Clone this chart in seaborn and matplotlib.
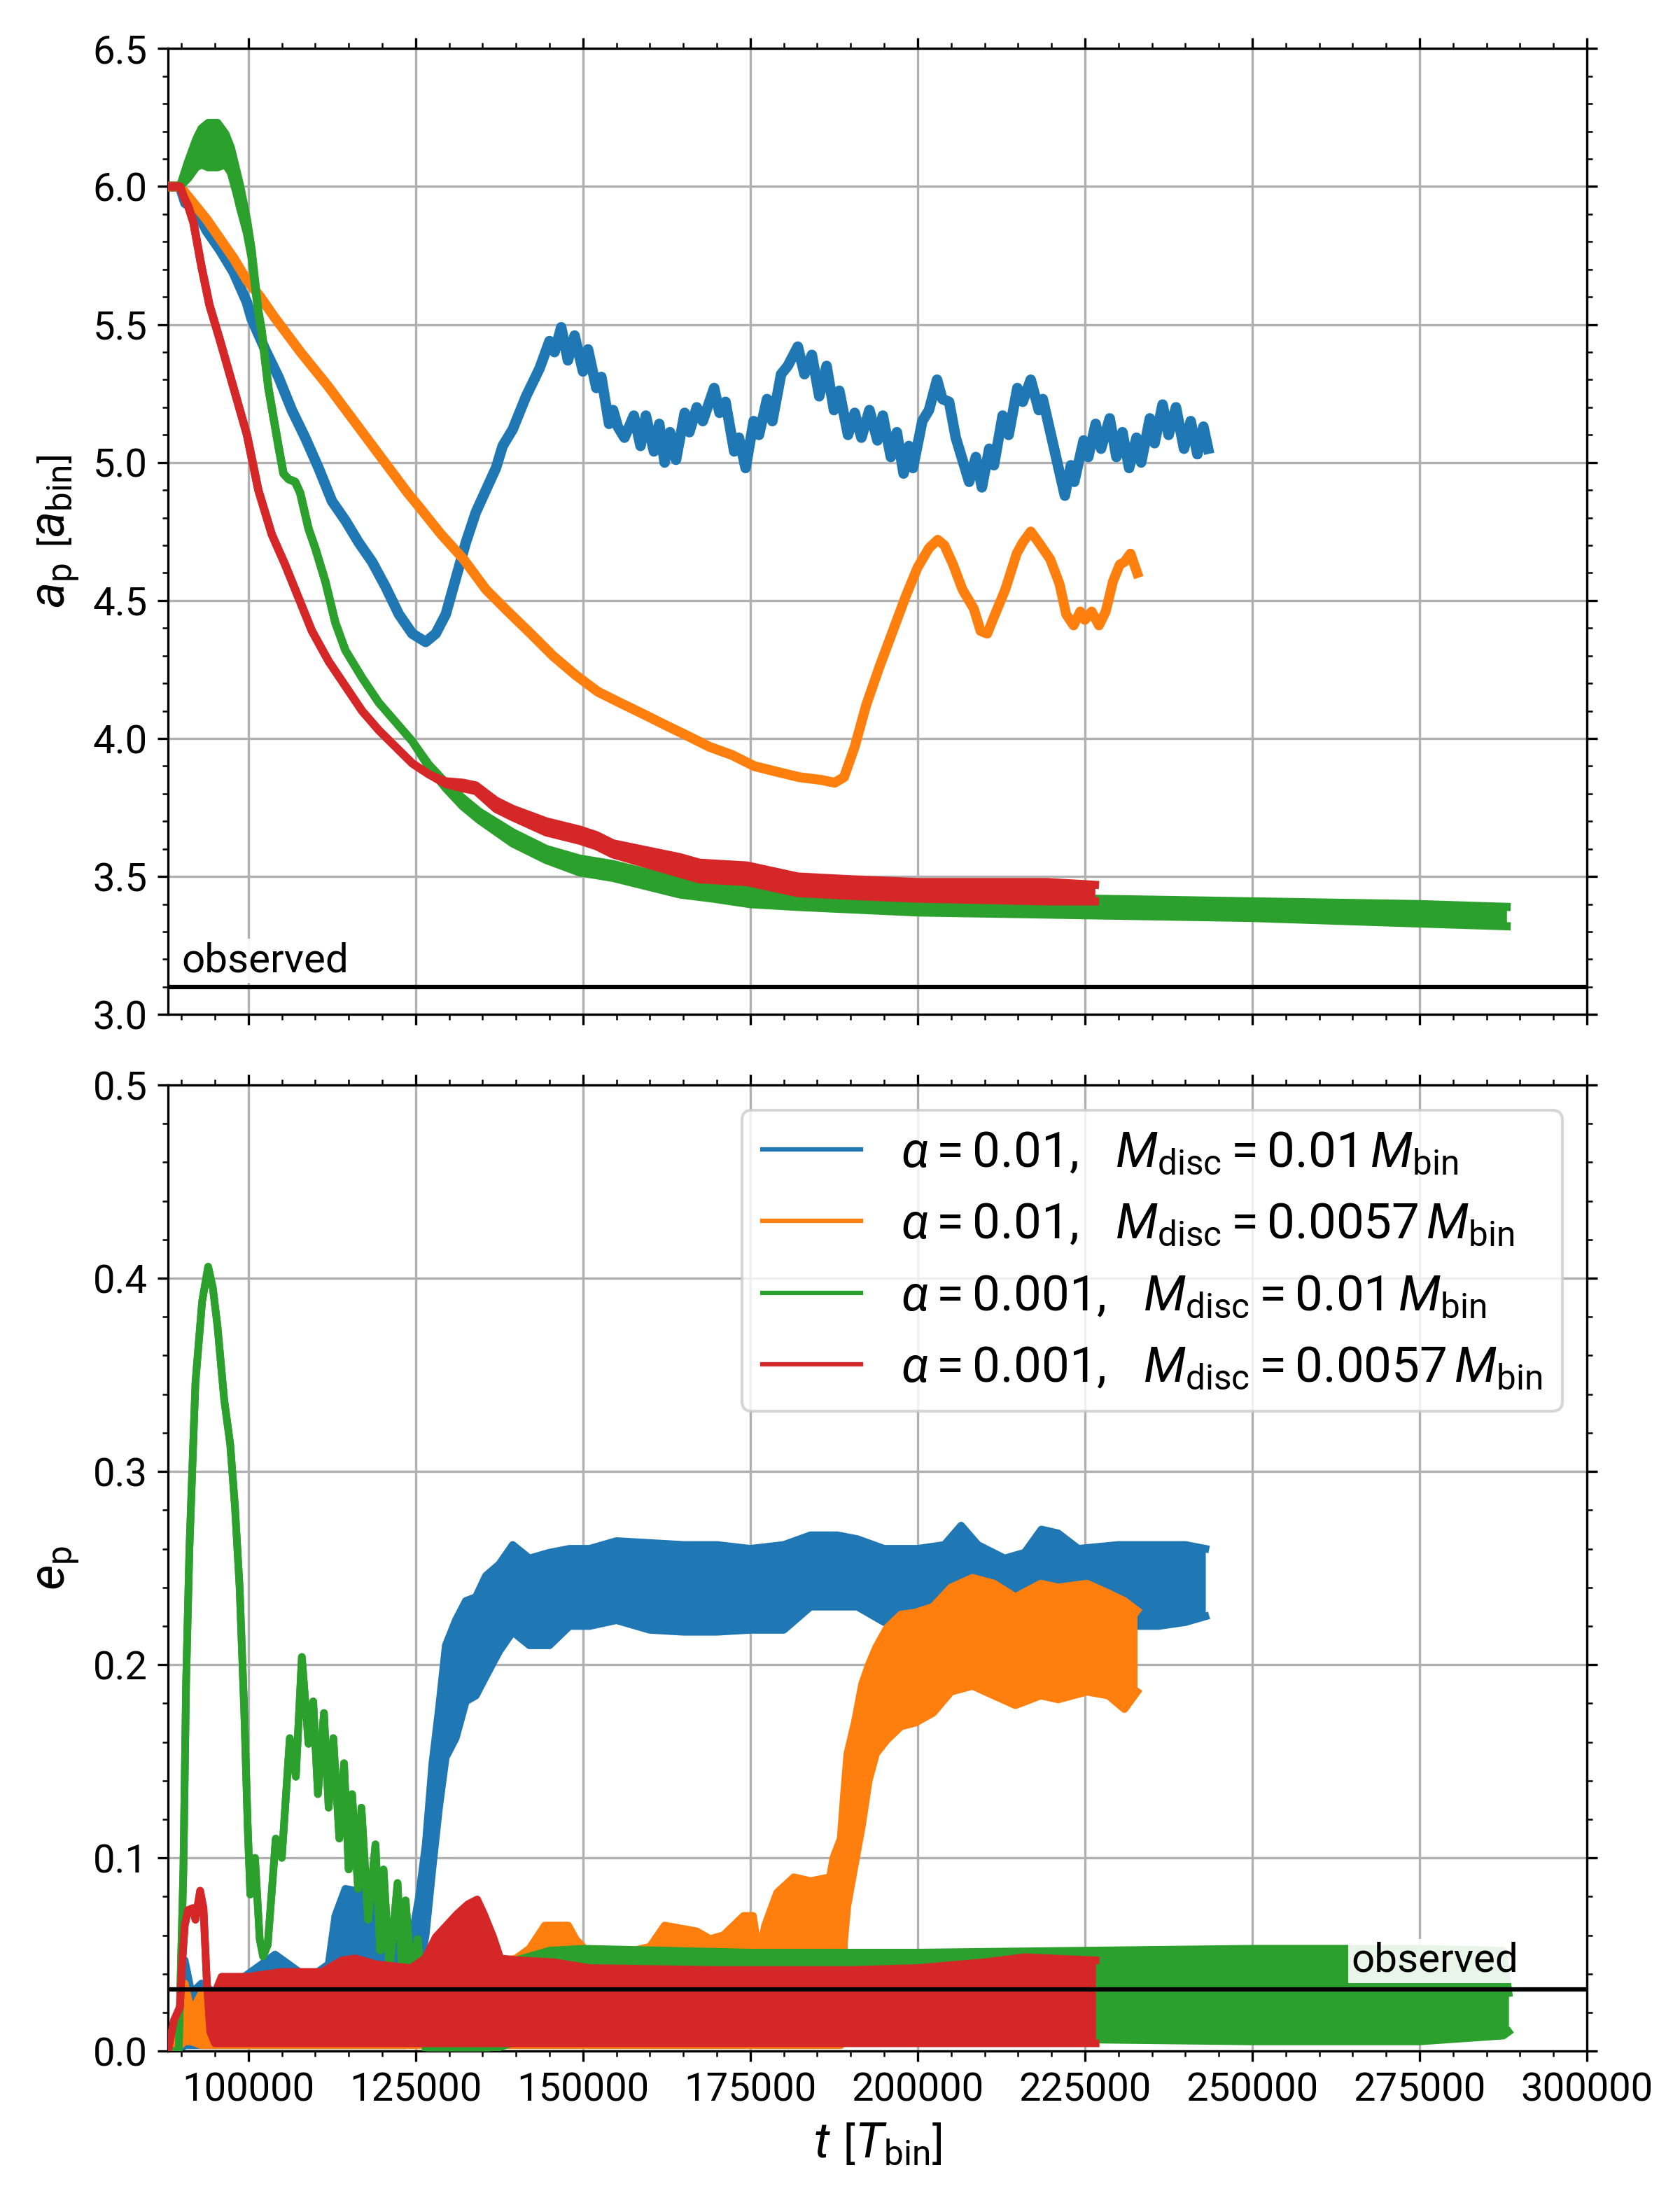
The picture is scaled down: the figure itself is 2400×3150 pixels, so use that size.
import numpy as np
import matplotlib
matplotlib.use("Agg")
import matplotlib.pyplot as plt
from matplotlib.lines import Line2D
import seaborn as sns

# ---------------- semi-major axis a_p [a_bin] ----------------
BLUE_A_T = [88000, 89800, 90600, 91800, 93800, 95800, 97800, 99800, 100500, 102500, 104500,
            106500, 108500, 110500, 112500, 114500, 116500, 118500, 120500, 122500, 124500,
            126500, 128000, 129500, 131000, 132500, 134000, 135500, 137000, 138000, 139500,
            141500, 143500, 145000, 145750, 146750, 147750, 148750, 150000, 150750, 152000,
            152750, 153900, 154500, 155200, 156200, 157600, 158600, 159400, 160600, 161400,
            162200, 163000, 163900, 165200, 165900, 167000, 167900, 169600, 170400, 171300,
            172600, 173300, 174300, 175500, 176300, 177500, 178300, 179600, 180600, 182100,
            183100, 184200, 185300, 186400, 187500, 188300, 189600, 190600, 191600, 192800,
            194000, 194800, 196000, 196900, 197900, 198700, 199300, 200700, 201700, 202900,
            203700, 204700, 205700, 206700, 207700, 208700, 209600, 210700, 211400, 212700,
            213600, 214900, 215700, 216900, 218100, 218700, 220400, 222000, 222900, 223400,
            224800, 225500, 226600, 227400, 228700, 229700, 230600, 231600, 232700, 233400,
            234700, 235400, 236600, 237500, 238600, 239800, 240800, 241800, 242700, 243400]
BLUE_A = [6.00, 6.00, 5.94, 5.93, 5.84, 5.77, 5.69, 5.58, 5.52, 5.41, 5.31,
          5.19, 5.09, 4.98, 4.86, 4.79, 4.71, 4.64, 4.55, 4.45, 4.38,
          4.35, 4.38, 4.45, 4.58, 4.71, 4.82, 4.90, 4.98, 5.06, 5.12,
          5.24, 5.34, 5.44, 5.40, 5.49, 5.37, 5.46, 5.33, 5.41, 5.27,
          5.31, 5.14, 5.19, 5.13, 5.09, 5.17, 5.06, 5.17, 5.04, 5.14,
          5.00, 5.11, 5.01, 5.18, 5.11, 5.20, 5.15, 5.27, 5.18, 5.22,
          5.04, 5.09, 4.98, 5.15, 5.10, 5.23, 5.15, 5.32, 5.35, 5.42,
          5.32, 5.39, 5.24, 5.35, 5.19, 5.26, 5.10, 5.18, 5.09, 5.19,
          5.08, 5.17, 5.02, 5.11, 4.96, 5.06, 4.98, 5.15, 5.19, 5.30,
          5.23, 5.22, 5.09, 5.01, 4.93, 5.02, 4.91, 5.05, 4.99, 5.17,
          5.10, 5.27, 5.22, 5.30, 5.19, 5.23, 5.05, 4.88, 4.99, 4.93,
          5.08, 5.02, 5.14, 5.05, 5.16, 5.02, 5.11, 4.98, 5.09, 5.00,
          5.16, 5.07, 5.21, 5.10, 5.20, 5.05, 5.15, 5.03, 5.13, 5.05]

ORANGE_A_T = [88000, 89800, 91800, 93800, 95800, 97800, 99800, 101800, 103800, 107800,
              111800, 115800, 119800, 123800, 125500, 128800, 132150, 135500, 138800, 142200,
              145500, 148900, 152200, 155500, 158900, 162200, 165600, 168900, 172300, 175600,
              178900, 182300, 185600, 187600, 189000, 190600, 192300, 194300, 196300, 198300,
              200000, 201700, 203000, 204000, 205300, 206700, 208400, 209400, 210400, 211400,
              213100, 214800, 215700, 216900, 218100, 219800, 221200, 222200, 223300, 224300,
              225000, 226000, 227100, 228100, 229200, 230200, 230900, 231800, 232800]
ORANGE_A = [6.00, 6.00, 5.94, 5.88, 5.81, 5.74, 5.66, 5.60, 5.53, 5.40,
            5.28, 5.15, 5.02, 4.89, 4.84, 4.74, 4.65, 4.54, 4.46, 4.38,
            4.30, 4.23, 4.17, 4.13, 4.09, 4.05, 4.01, 3.97, 3.94, 3.90,
            3.88, 3.86, 3.85, 3.84, 3.86, 3.97, 4.12, 4.26, 4.39, 4.52,
            4.62, 4.69, 4.72, 4.70, 4.63, 4.54, 4.47, 4.39, 4.38, 4.44,
            4.54, 4.67, 4.71, 4.75, 4.71, 4.65, 4.56, 4.45, 4.41, 4.46,
            4.43, 4.46, 4.41, 4.46, 4.57, 4.63, 4.64, 4.67, 4.60]

GREEN_A_T = [88000, 89800, 91000, 92200, 93000, 94000, 95400, 96600, 97400, 98200, 98800,
             99800, 100500, 101500, 102000, 103000, 104500, 105250, 106000, 107000, 107750,
             109000, 110000, 111500, 113000, 114500, 117000, 119500, 122000, 124500, 127000,
             129500, 132000, 134500, 139500, 144500, 149500, 154500, 159500, 164500, 169500,
             175000, 182100, 200000, 225000, 250000, 275000, 288000]
GREEN_A_LO = [6.00, 6.00, 6.03, 6.07, 6.08, 6.07, 6.07, 6.08, 6.05, 5.98, 5.92,
              5.83, 5.74, 5.54, 5.47, 5.27, 5.06, 4.96, 4.94, 4.93, 4.89,
              4.76, 4.69, 4.57, 4.42, 4.32, 4.22, 4.13, 4.06, 3.99, 3.895,
              3.82, 3.755, 3.705, 3.62, 3.56, 3.515, 3.495, 3.465, 3.435, 3.42,
              3.40, 3.39, 3.37, 3.36, 3.35, 3.33, 3.32]
GREEN_A_HI = [6.00, 6.00, 6.09, 6.17, 6.21, 6.23, 6.23, 6.19, 6.14, 6.06, 6.00,
              5.88, 5.77, 5.55, 5.48, 5.27, 5.06, 4.96, 4.94, 4.93, 4.89,
              4.76, 4.69, 4.57, 4.42, 4.32, 4.22, 4.13, 4.06, 3.99, 3.905,
              3.84, 3.785, 3.735, 3.66, 3.60, 3.565, 3.545, 3.515, 3.49, 3.47,
              3.45, 3.44, 3.43, 3.42, 3.41, 3.40, 3.39]

RED_A_T = [88000, 89800, 90400, 91000, 91800, 93000, 94200, 95800, 97800, 99800, 101500,
           103500, 105500, 107500, 109500, 112000, 114500, 117000, 119500, 122000, 124500,
           127000, 129500, 132000, 134000, 137000, 139500, 144500, 149500, 152000, 154500,
           159500, 164500, 167400, 174500, 182100, 190000, 200000, 210000, 219400, 226500]
RED_A_LO = [6.00, 6.00, 5.96, 5.93, 5.87, 5.71, 5.57, 5.44, 5.27, 5.10, 4.90,
            4.74, 4.63, 4.51, 4.39, 4.28, 4.19, 4.10, 4.03, 3.97, 3.91,
            3.87, 3.835, 3.82, 3.81, 3.745, 3.715, 3.66, 3.63, 3.61, 3.58,
            3.545, 3.51, 3.49, 3.48, 3.44, 3.43, 3.42, 3.415, 3.41, 3.41]
RED_A_HI = [6.00, 6.00, 5.96, 5.93, 5.87, 5.71, 5.57, 5.44, 5.27, 5.10, 4.90,
            4.74, 4.63, 4.51, 4.39, 4.28, 4.19, 4.10, 4.03, 3.97, 3.91,
            3.87, 3.845, 3.84, 3.83, 3.775, 3.745, 3.70, 3.67, 3.65, 3.62,
            3.595, 3.57, 3.55, 3.54, 3.50, 3.49, 3.48, 3.48, 3.48, 3.47]

# ---------------- eccentricity e_p (envelopes of the fast oscillation) ----------------
BLUE_E_T = [88000, 89500, 90500, 91500, 93000, 95000, 98000, 100000, 102000, 104000, 106000,
            108000, 110000, 112000, 113000, 114500, 116000, 117500, 119000, 120500, 122000,
            123500, 124500, 125500, 126500, 127500, 128500, 129500, 131000, 132500, 134000,
            135500, 137500, 139500, 142000, 145000, 148000, 151000, 155000, 160000, 165000,
            170000, 175000, 180000, 184000, 188000, 191000, 195000, 200000, 204000, 206500,
            209000, 213000, 216000, 218500, 221000, 224000, 230000, 236000, 240000, 243000]
BLUE_E_LO = [0.0, 0.0, 0.003, 0.003, 0.003, 0.003, 0.003, 0.003, 0.003, 0.003, 0.003,
             0.003, 0.003, 0.003, 0.003, 0.003, 0.003, 0.003, 0.003, 0.003, 0.003,
             0.003, 0.01, 0.04, 0.06, 0.094, 0.126, 0.152, 0.162, 0.181, 0.184,
             0.194, 0.207, 0.217, 0.21, 0.21, 0.22, 0.22, 0.223, 0.218, 0.217,
             0.217, 0.218, 0.218, 0.23, 0.23, 0.23, 0.222, 0.222, 0.222, 0.222,
             0.222, 0.221, 0.221, 0.228, 0.228, 0.22, 0.22, 0.22, 0.222, 0.225]
BLUE_E_HI = [0.0, 0.01, 0.047, 0.03, 0.035, 0.03, 0.035, 0.04, 0.045, 0.05, 0.045,
             0.04, 0.04, 0.045, 0.07, 0.084, 0.083, 0.084, 0.075, 0.065, 0.055,
             0.05, 0.06, 0.08, 0.107, 0.149, 0.178, 0.21, 0.223, 0.233, 0.235,
             0.246, 0.252, 0.262, 0.255, 0.258, 0.26, 0.26, 0.264, 0.263, 0.262,
             0.262, 0.26, 0.262, 0.267, 0.267, 0.265, 0.26, 0.26, 0.262, 0.272,
             0.262, 0.255, 0.258, 0.27, 0.268, 0.26, 0.262, 0.262, 0.262, 0.26]

ORANGE_E_T = [88000, 89500, 90500, 91500, 93000, 96000, 100000, 110000, 120000, 130000,
              140000, 142000, 144300, 147800, 148900, 150500, 155000, 160000, 162200, 163800,
              167000, 169000, 171000, 174000, 175400, 176300, 177200, 179000, 181500, 184000,
              186900, 187400, 188500, 189000, 189500, 190600, 191700, 192700, 193800, 195400,
              197500, 199700, 202300, 205000, 208200, 211400, 214600, 218400, 221000, 225300,
              228500, 230900, 232800]
ORANGE_E_LO = [0.0, 0.002, 0.005, 0.005, 0.003, 0.003, 0.003, 0.003, 0.003, 0.003,
               0.003, 0.003, 0.003, 0.003, 0.003, 0.003, 0.003, 0.003, 0.003, 0.003,
               0.003, 0.003, 0.003, 0.003, 0.003, 0.003, 0.003, 0.003, 0.003, 0.003,
               0.003, 0.003, 0.003, 0.056, 0.075, 0.096, 0.117, 0.14, 0.154, 0.161,
               0.168, 0.17, 0.175, 0.186, 0.189, 0.184, 0.179, 0.184, 0.182, 0.186,
               0.184, 0.177, 0.186]
ORANGE_E_HI = [0.0, 0.01, 0.035, 0.02, 0.03, 0.025, 0.03, 0.035, 0.035, 0.04,
               0.048, 0.053, 0.065, 0.065, 0.058, 0.052, 0.05, 0.054, 0.065, 0.064,
               0.062, 0.058, 0.06, 0.07, 0.07, 0.05, 0.065, 0.082, 0.09, 0.088,
               0.09, 0.10, 0.11, 0.133, 0.154, 0.17, 0.19, 0.20, 0.209, 0.219,
               0.226, 0.227, 0.23, 0.24, 0.245, 0.242, 0.235, 0.242, 0.24, 0.242,
               0.237, 0.233, 0.228]

GREEN_E_T = [88000, 89600, 90300, 90700, 91200, 92100, 93100, 94000, 94700, 95400, 96400,
             97300, 98000, 98700, 99400, 99900, 100300, 101000, 101700, 102200, 102900,
             104100, 105000, 106200, 107100, 108000, 109000, 109700, 110400, 111300, 112000,
             112700, 113600, 114300, 115000, 115500, 116400, 116900, 117900, 119000, 119700,
             120200, 121100, 122300, 123000, 123500, 124400, 125300, 126000, 126500, 136000,
             140000, 145000, 150000, 175000, 200000, 225000, 250000, 275000, 287500, 288300]
GREEN_E_LO = [0.0, 0.0, 0.094, 0.19, 0.26, 0.346, 0.388, 0.406, 0.395, 0.375, 0.337,
              0.314, 0.282, 0.24, 0.175, 0.117, 0.081, 0.10, 0.058, 0.049, 0.055,
              0.11, 0.10, 0.162, 0.142, 0.204, 0.159, 0.181, 0.133, 0.175, 0.126,
              0.162, 0.11, 0.149, 0.094, 0.133, 0.084, 0.126, 0.068, 0.107, 0.052,
              0.094, 0.042, 0.087, 0.039, 0.078, 0.036, 0.058, 0.03, 0.0, 0.0,
              0.005, 0.005, 0.006, 0.006, 0.006, 0.006, 0.005, 0.005, 0.008, 0.01]
GREEN_E_HI = [0.0, 0.0, 0.094, 0.19, 0.26, 0.346, 0.388, 0.406, 0.395, 0.375, 0.337,
              0.314, 0.282, 0.24, 0.175, 0.117, 0.081, 0.10, 0.058, 0.049, 0.055,
              0.11, 0.10, 0.162, 0.142, 0.204, 0.159, 0.181, 0.133, 0.175, 0.126,
              0.162, 0.11, 0.149, 0.094, 0.133, 0.084, 0.126, 0.068, 0.107, 0.052,
              0.094, 0.042, 0.087, 0.039, 0.078, 0.036, 0.058, 0.03, 0.04, 0.04,
              0.047, 0.052, 0.053, 0.051, 0.051, 0.052, 0.053, 0.053, 0.052, 0.03]

RED_E_T = [88000, 88900, 89800, 90100, 90500, 91000, 91700, 92100, 92800, 93300, 93800,
           94300, 95000, 96000, 100000, 105000, 111000, 114000, 116000, 119000, 124300,
           126400, 128000, 129600, 131200, 132800, 134200, 135200, 136600, 137650, 140300,
           145700, 151000, 170000, 190000, 200000, 210000, 216000, 226600]
RED_E_LO = [0.0, 0.016, 0.023, 0.045, 0.065, 0.073, 0.074, 0.068, 0.083, 0.074, 0.036,
            0.01, 0.004, 0.004, 0.004, 0.004, 0.004, 0.004, 0.004, 0.004, 0.004,
            0.004, 0.004, 0.004, 0.004, 0.004, 0.004, 0.004, 0.004, 0.004, 0.004,
            0.004, 0.004, 0.004, 0.004, 0.004, 0.004, 0.004, 0.004]
RED_E_HI = [0.0, 0.016, 0.023, 0.045, 0.065, 0.073, 0.074, 0.068, 0.083, 0.074, 0.036,
            0.013, 0.03, 0.0385, 0.0385, 0.041, 0.041, 0.047, 0.048, 0.045, 0.043,
            0.048, 0.059, 0.065, 0.071, 0.076, 0.0785, 0.071, 0.059, 0.048, 0.047,
            0.046, 0.043, 0.042, 0.042, 0.043, 0.046, 0.0486, 0.047]

A_OBS = 3.1
E_OBS = 0.032

LABELS = [r"$\alpha = 0.01,\ \ M_{\rm disc} = 0.01\,M_{\rm bin}$",
          r"$\alpha = 0.01,\ \ M_{\rm disc} = 0.0057\,M_{\rm bin}$",
          r"$\alpha = 0.001,\ \ M_{\rm disc} = 0.01\,M_{\rm bin}$",
          r"$\alpha = 0.001,\ \ M_{\rm disc} = 0.0057\,M_{\rm bin}$"]

plt.rcParams["font.family"] = ["Roboto", "DejaVu Sans"]
plt.rcParams["mathtext.fontset"] = "custom"
plt.rcParams["mathtext.rm"] = "Roboto"
plt.rcParams["mathtext.it"] = "Roboto:italic"
plt.rcParams["mathtext.bf"] = "Roboto:bold"
plt.rcParams["mathtext.sf"] = "Roboto"
plt.rcParams["xtick.labelsize"] = 13.5
plt.rcParams["ytick.labelsize"] = 13.5

colors = sns.color_palette("tab10", 4)


def draw(ax, t, lo, hi, color, z, lw=2.6):
    t = np.asarray(t, dtype=float)
    lo = np.asarray(lo, dtype=float)
    hi = np.asarray(hi, dtype=float)
    ax.fill_between(t, lo, hi, color=color, lw=0, zorder=z)
    sns.lineplot(x=t, y=lo, ax=ax, color=color, lw=lw, estimator=None, sort=False, zorder=z)
    sns.lineplot(x=t, y=hi, ax=ax, color=color, lw=lw, estimator=None, sort=False, zorder=z)


fig, (ax1, ax2) = plt.subplots(2, 1, sharex=True, figsize=(8, 10.5), dpi=300)
fig.subplots_adjust(left=0.1, right=0.9446, top=0.978, bottom=0.0698, hspace=0.073)

# top panel
sns.lineplot(x=BLUE_A_T, y=BLUE_A, ax=ax1, color=colors[0], lw=3.6, estimator=None, sort=False, zorder=2)
sns.lineplot(x=ORANGE_A_T, y=ORANGE_A, ax=ax1, color=colors[1], lw=3.4, estimator=None, sort=False, zorder=3)
draw(ax1, GREEN_A_T, GREEN_A_LO, GREEN_A_HI, colors[2], 4, lw=2.8)
draw(ax1, RED_A_T, RED_A_LO, RED_A_HI, colors[3], 5, lw=2.8)

# bottom panel
draw(ax2, BLUE_E_T, BLUE_E_LO, BLUE_E_HI, colors[0], 2)
draw(ax2, ORANGE_E_T, ORANGE_E_LO, ORANGE_E_HI, colors[1], 3)
draw(ax2, GREEN_E_T, GREEN_E_LO, GREEN_E_HI, colors[2], 4)
draw(ax2, RED_E_T, RED_E_LO, RED_E_HI, colors[3], 5)

txt_box = dict(facecolor="white", edgecolor="none", alpha=0.9, pad=1)
ax1.axhline(A_OBS, color="k", lw=1.5, zorder=10)
ax1.text(90000, 3.155, "observed", fontsize=14, va="baseline", ha="left", zorder=11, bbox=txt_box)
ax2.axhline(E_OBS, color="k", lw=1.5, zorder=10)
ax2.text(264800, 0.041, "observed", fontsize=14, va="baseline", ha="left", zorder=11, bbox=txt_box)

ax1.set_xlim(88000, 300000)
ax1.set_ylim(3.0, 6.5)
ax2.set_ylim(0.0, 0.5)
ax1.set_xticks(np.arange(100000, 300001, 25000))

for ax in (ax1, ax2):
    ax.minorticks_on()
    ax.tick_params(which="both", direction="out", top=True, right=True)
    ax.grid(True, which="major", color="#b0b0b0", lw=0.8)
    ax.set_axisbelow(True)

ax1.set_ylabel(r"$a_{\rm p}\ \left[a_{\rm bin}\right]$", fontsize=17)
ax2.set_ylabel(r"$e_{\rm p}$", fontsize=17)
ax2.set_xlabel(r"$t\ \left[T_{\rm bin}\right]$", fontsize=17)

handles = [Line2D([], [], color=c, lw=1.5) for c in colors]
ax2.legend(handles, LABELS, loc="upper right", fontsize=17)

fig.savefig("out.png", dpi=300)
